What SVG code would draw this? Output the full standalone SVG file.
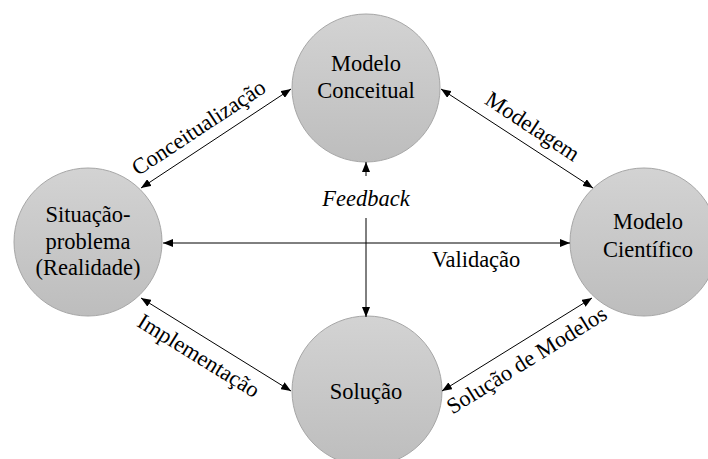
<svg xmlns="http://www.w3.org/2000/svg" width="708" height="459" viewBox="0 0 708 459">
<style>
.node circle{fill:url(#g);stroke:#a6a6a6;stroke-width:1}
text{font-family:'Liberation Serif','Times New Roman',Times,serif;font-size:22.5px;fill:#000;text-anchor:middle}
.it{font-style:italic}
#connectors line{stroke:#000;stroke-width:1}
.bi{marker-start:url(#ah);marker-end:url(#ah)}
.one{marker-end:url(#ah)}
</style>
<defs>
<linearGradient id="g" x1="0" y1="0" x2="0" y2="1">
<stop offset="0" stop-color="#d3d3d3"/>
<stop offset="1" stop-color="#bdbdbd"/>
</linearGradient>
<marker id="ah" markerUnits="userSpaceOnUse" markerWidth="11" markerHeight="8" refX="10" refY="4" orient="auto-start-reverse">
<path d="M0,0 L10,4 L0,8 z" fill="#000"/>
</marker>
</defs>
<rect width="708" height="459" fill="#fff"/>
<g id="n-conceitual" class="node">
<circle cx="366" cy="88" r="74"/>
<text x="366" y="71">Modelo</text>
<text x="366" y="98">Conceitual</text>
</g>
<g id="n-situacao" class="node">
<circle cx="88" cy="242" r="74"/>
<text x="88" y="222">Situação-</text>
<text x="88" y="249">problema</text>
<text x="88" y="275">(Realidade)</text>
</g>
<g id="n-cientifico" class="node">
<circle cx="644" cy="242" r="74"/>
<text x="648" y="229">Modelo</text>
<text x="648" y="257">Científico</text>
</g>
<g id="n-solucao" class="node">
<circle cx="367" cy="391" r="75"/>
<text x="366" y="399">Solução</text>
</g>
<g id="connectors">
<line class="bi" x1="141" y1="188" x2="291" y2="89"/>
<line class="bi" x1="441" y1="89" x2="593" y2="188"/>
<line class="bi" x1="163" y1="243" x2="570" y2="243"/>
<line class="bi" x1="141" y1="298" x2="291" y2="391"/>
<line class="bi" x1="592" y1="298" x2="442" y2="391"/>
<line class="one" x1="366" y1="176" x2="366" y2="162"/>
<line class="one" x1="366" y1="218" x2="366" y2="317"/>
<text transform="translate(202.7,133.7) rotate(-33.4)">Conceitualização</text>
<text transform="translate(528.5,132.6) rotate(33.3)">Modelagem</text>
<text transform="translate(194.8,362) rotate(31.8)">Implementação</text>
<text transform="translate(530.5,366.3) rotate(-31.8)">Solução de Modelos</text>
<text x="476" y="267">Validação</text>
<text class="it" x="366" y="206">Feedback</text>
</g>
</svg>
